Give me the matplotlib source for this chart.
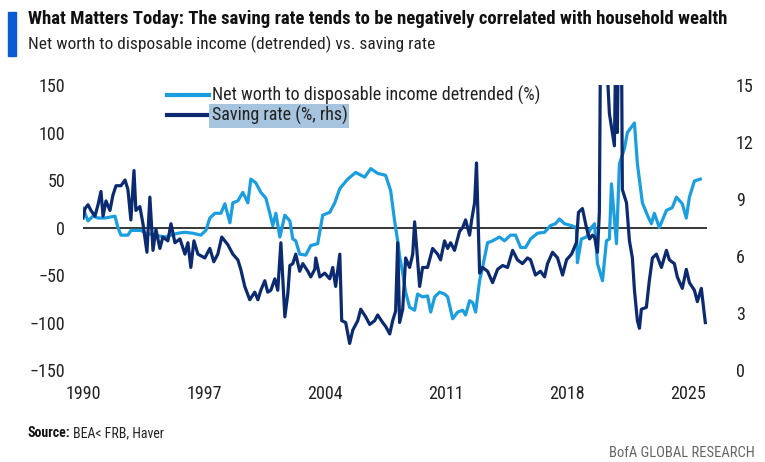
import matplotlib
matplotlib.use("Agg")
import matplotlib.pyplot as plt
import matplotlib.font_manager as fm
from matplotlib.lines import Line2D

# pick a narrow font if one is installed
names = {f.name for f in fm.fontManager.ttflist}
fam = "DejaVu Sans"
for cand in ["Liberation Sans Narrow", "Roboto Condensed", "Open Sans Condensed", "Roboto", "Liberation Sans"]:
    if cand in names:
        fam = cand
        break
plt.rcParams["font.family"] = [fam, "DejaVu Sans"]

LIGHT = "#1a9ee0"
NAVY = "#0b2a6f"

# net worth to disposable income, detrended (%), left axis
nw_year = [1990.00, 1990.29, 1990.58, 1990.87, 1991.27, 1991.85, 1992.02, 1992.20, 1992.60, 1992.77,
           1993.35, 1993.64, 1994.16, 1994.74, 1995.09, 1995.49, 1995.90, 1996.36, 1996.82, 1997.11,
           1997.34, 1997.63, 1997.98, 1998.21, 1998.50, 1998.67, 1998.96, 1999.25, 1999.54, 1999.71,
           2000.00, 2000.29, 2000.58, 2000.81, 2000.98, 2001.16, 2001.39, 2001.68, 2001.97, 2002.14,
           2002.31, 2002.54, 2002.89, 2003.18, 2003.58, 2003.87, 2004.28, 2004.57, 2004.86, 2005.32,
           2005.78, 2006.30, 2006.65, 2007.05, 2007.51, 2007.80, 2008.03, 2008.21, 2008.32, 2008.50,
           2008.67, 2008.90, 2009.19, 2009.36, 2009.65, 2009.94, 2010.12, 2010.35, 2010.63, 2010.92,
           2011.10, 2011.39, 2011.68, 2011.97, 2012.14, 2012.37, 2012.55, 2012.72, 2012.95, 2013.12,
           2013.41, 2013.70, 2014.10, 2014.39, 2014.74, 2015.03, 2015.32, 2015.61, 2015.90, 2016.30,
           2016.71, 2017.05, 2017.34, 2017.57, 2017.86, 2018.27, 2018.55, 2018.61, 2018.84, 2019.13,
           2019.42, 2019.60, 2019.77, 2020.06, 2020.29, 2020.46, 2020.58, 2020.87, 2021.04, 2021.33,
           2021.50, 2021.91, 2022.08, 2022.37, 2022.66, 2022.89, 2023.06, 2023.35, 2023.76, 2024.10,
           2024.34, 2024.68, 2024.91, 2025.09, 2025.38, 2025.72]
nw_val = [20, 7, 12, 10, 10, 12, 0, -8, -8, -3,
          -3, -6, -8, -10, -8, -6, -5, -6, -8, -3,
          10, 15, 15, 25, 5, 26, 28, 37, 26, 51,
          47, 37, 31, 15, 2, 15, -10, 13, 7, -12,
          -14, -28, -29, -19, -17, 13, 16, 26, 41, 51,
          58, 53, 62, 57, 55, 39, 7, -14, -30, -48,
          -68, -84, -87, -70, -73, -72, -89, -73, -68, -70,
          -73, -96, -89, -87, -92, -77, -79, -89, -56, -42,
          -16, -14, -10, -14, -8, -8, -21, -21, -12, -6,
          -5, 2, 4, 9, 4, 2, 0, -37, -12, -10,
          0, 4, -38, -56, -14, -12, 46, -17, 67, 83,
          100, 110, 67, 26, 13, 4, 15, 0, 18, 21,
          32, 25, 10, 32, 49, 51]

# personal saving rate (%), right axis
sr_year = [1990.00, 1990.12, 1990.29, 1990.46, 1990.69, 1990.87, 1991.04, 1991.16, 1991.33, 1991.56,
           1991.73, 1991.91, 1992.20, 1992.43, 1992.60, 1992.77, 1992.95, 1993.06, 1993.29, 1993.47,
           1993.70, 1993.87, 1994.05, 1994.22, 1994.45, 1994.62, 1994.91, 1995.09, 1995.32, 1995.61,
           1995.90, 1996.07, 1996.24, 1996.42, 1996.65, 1997.05, 1997.34, 1997.57, 1997.80, 1998.03,
           1998.38, 1998.67, 1998.96, 1999.13, 1999.36, 1999.65, 1999.94, 2000.12, 2000.29, 2000.52,
           2000.69, 2000.87, 2001.10, 2001.27, 2001.45, 2001.68, 2001.85, 2001.97, 2002.14, 2002.31,
           2002.54, 2002.72, 2003.01, 2003.18, 2003.41, 2003.47, 2003.70, 2003.99, 2004.28, 2004.45,
           2004.62, 2004.86, 2004.97, 2005.20, 2005.43, 2005.61, 2005.90, 2006.07, 2006.36, 2006.59,
           2006.88, 2007.05, 2007.34, 2007.51, 2007.75, 2007.92, 2008.09, 2008.21, 2008.32, 2008.50,
           2008.67, 2008.90, 2009.08, 2009.19, 2009.48, 2009.65, 2009.94, 2010.23, 2010.52, 2010.69,
           2010.92, 2011.10, 2011.27, 2011.50, 2011.79, 2011.97, 2012.14, 2012.37, 2012.49, 2012.66,
           2012.77, 2012.95, 2013.12, 2013.41, 2013.70, 2013.99, 2014.28, 2014.57, 2014.86, 2015.14,
           2015.43, 2015.72, 2015.90, 2016.18, 2016.47, 2016.71, 2016.88, 2017.17, 2017.46, 2017.75,
           2017.98, 2018.27, 2018.55, 2018.67, 2018.90, 2019.13, 2019.31, 2019.48, 2019.60, 2019.77,
           2019.88, 2020.06, 2020.17, 2020.29, 2020.35, 2020.46, 2020.75, 2020.87, 2020.92, 2021.10,
           2021.21, 2021.45, 2021.62, 2021.79, 2021.91, 2022.08, 2022.20, 2022.31, 2022.60, 2022.77,
           2022.95, 2023.18, 2023.47, 2023.76, 2023.93, 2024.22, 2024.39, 2024.68, 2024.91, 2025.09,
           2025.38, 2025.55, 2025.78, 2026.01]
sr_val = [8.0, 8.5, 8.7, 8.4, 8.1, 8.7, 9.4, 8.1, 8.9, 8.4,
          9.2, 9.7, 9.7, 10.0, 9.5, 7.9, 10.5, 8.4, 8.6, 7.7,
          6.2, 9.1, 6.3, 7.4, 6.4, 7.0, 6.8, 7.7, 6.7, 6.9,
          6.1, 6.7, 5.4, 6.8, 6.1, 5.9, 6.4, 5.7, 6.1, 7.0,
          6.6, 6.1, 5.8, 5.3, 4.4, 3.7, 4.1, 3.7, 4.2, 4.7,
          4.1, 4.2, 4.8, 4.2, 6.7, 2.8, 4.0, 5.5, 5.6, 6.1,
          5.2, 5.6, 5.2, 4.9, 5.3, 5.9, 4.9, 5.1, 4.8, 5.4,
          4.4, 6.1, 2.6, 2.5, 1.4, 2.1, 2.6, 3.2, 2.8, 2.4,
          2.6, 2.9, 2.5, 2.3, 1.9, 2.6, 3.1, 6.7, 2.5, 3.2,
          5.9, 5.4, 6.1, 7.8, 4.4, 5.4, 5.4, 6.4, 6.1, 5.8,
          6.8, 6.4, 6.7, 6.3, 7.3, 7.5, 7.9, 7.1, 7.9, 8.8,
          10.9, 5.1, 5.4, 5.2, 4.6, 5.3, 5.5, 5.4, 6.3, 5.8,
          5.6, 5.9, 5.8, 5.0, 5.2, 4.9, 5.6, 6.2, 5.9, 5.0,
          5.8, 6.1, 6.7, 8.3, 8.5, 7.5, 6.9, 7.1, 7.0, 6.2,
          8.3, 33.0, 24.0, 19.0, 15.5, 13.5, 11.8, 20.0, 12.5, 26.5,
          9.5, 8.8, 6.8, 5.9, 4.2, 2.6, 2.2, 3.2, 3.3, 4.7,
          5.9, 6.1, 5.4, 6.3, 5.8, 5.6, 4.9, 4.3, 5.3, 4.6,
          4.2, 3.6, 4.3, 2.5]

left_ticks = [-150, -100, -50, 0, 50, 100, 150]
right_ticks = [0, 3, 6, 9, 12, 15]
x_ticks = [1990, 1997, 2004, 2011, 2018, 2025]

fig = plt.figure(figsize=(7.65, 4.62), dpi=100)
ax = fig.add_axes([0.1085, 0.199, 0.8155, 0.617])
ax2 = ax.twinx()

ax.axhline(0, color="black", lw=1.1, zorder=1)
ax.plot(nw_year, nw_val, color=LIGHT, lw=2.3, zorder=2)
ax2.plot(sr_year, sr_val, color=NAVY, lw=2.3, zorder=3)

ax.set_xlim(1990, 2026.1)
ax.set_ylim(-150, 150)
ax2.set_ylim(0, 15)
ax.set_yticks(left_ticks)
ax2.set_yticks(right_ticks)
ax.set_xticks(x_ticks)

for a in (ax, ax2):
    for s in a.spines.values():
        s.set_visible(False)
ax.tick_params(axis="y", length=0, pad=13, labelsize=13, colors="#222222")
ax.tick_params(axis="x", length=0, pad=11, labelsize=13, colors="#222222")
ax2.tick_params(axis="y", length=0, pad=21, labelsize=13, colors="#222222")

handles = [Line2D([], [], color=LIGHT, lw=3),
           Line2D([], [], color=NAVY, lw=3)]
leg = ax2.legend(handles, ["Net worth to disposable income detrended (%)", "Saving rate (%, rhs)"],
                 loc="upper left", bbox_to_anchor=(0.123, 1.022), frameon=False,
                 fontsize=13, handlelength=2.35, handletextpad=0.12, labelspacing=0.06,
                 borderaxespad=0)
for t in leg.get_texts():
    t.set_color("#222222")
leg.get_texts()[1].set_bbox(dict(facecolor="#a6c4dd", edgecolor="none", pad=1.5))

# header
fig.patches.append(plt.Rectangle((0.010, 0.878), 0.011, 0.097, transform=fig.transFigure,
                                 color="#0a5bd1", zorder=5))
fig.text(0.036, 0.958, "What Matters Today: The saving rate tends to be negatively correlated with household wealth",
         fontsize=13.5, fontweight="bold", color="#111111", va="center")
fig.text(0.036, 0.904, "Net worth to disposable income (detrended) vs. saving rate",
         fontsize=12.5, color="#222222", va="center")

fig.text(0.036, 0.063, "Source:", fontsize=10, fontweight="bold", color="#111111", va="center")
fig.text(0.095, 0.063, "BEA< FRB, Haver", fontsize=10, color="#222222", va="center")
fig.text(0.987, 0.02, "BofA GLOBAL RESEARCH", fontsize=10.5, color="#666666", ha="right", va="center")

fig.savefig("out.png", dpi=100)
